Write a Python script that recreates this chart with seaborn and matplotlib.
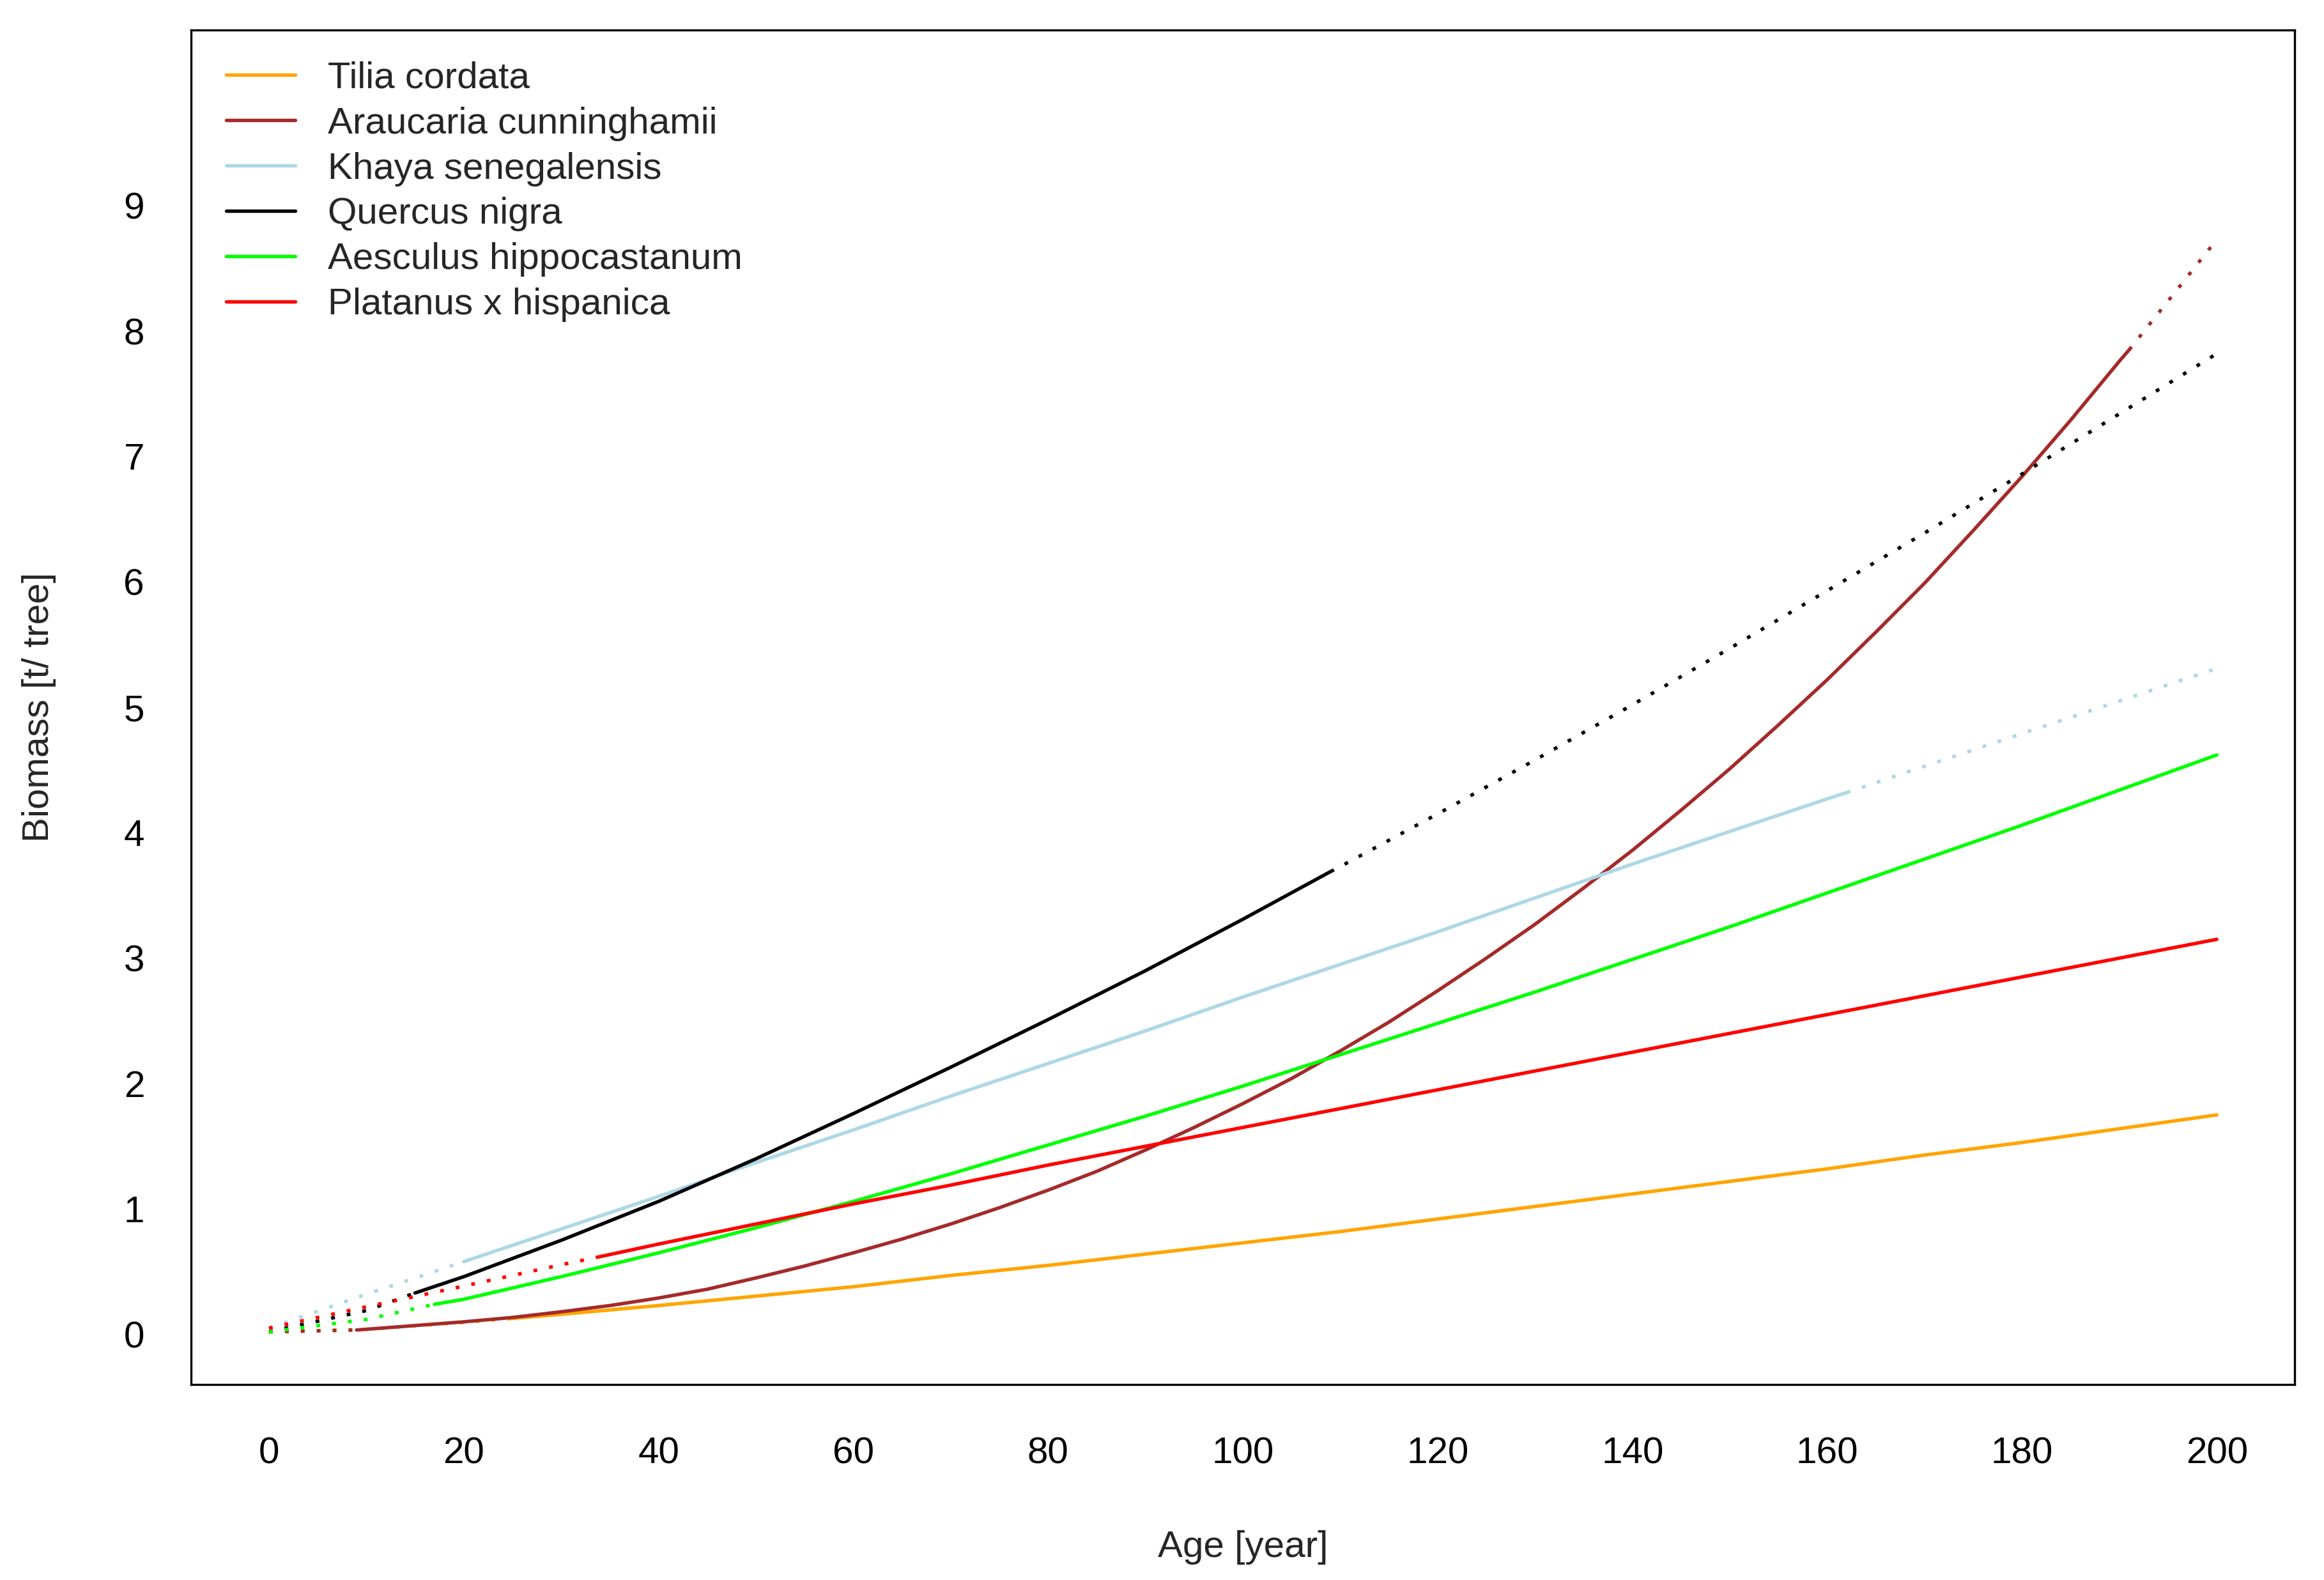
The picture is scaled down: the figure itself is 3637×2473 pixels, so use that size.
import numpy as np
import pandas as pd
import matplotlib
matplotlib.use("Agg")
import matplotlib.pyplot as plt
from matplotlib.lines import Line2D
import seaborn as sns

# biomass curves (age in years, biomass in t/tree)
tilia_age = [0, 10, 20, 25, 30, 40, 50, 60, 70, 80, 90, 100, 110, 120, 130, 140, 150, 160, 170, 180, 190, 200]
tilia_mass = [0.02, 0.04, 0.096, 0.127, 0.16, 0.23, 0.305, 0.38, 0.47, 0.55, 0.64, 0.73, 0.82, 0.92, 1.02, 1.12, 1.22, 1.32, 1.43, 1.53, 1.64, 1.75]
tilia_fit = (25, 200)

arau_age = [0, 9, 20, 25, 30, 35, 40, 45, 50, 55, 60, 65, 70, 75, 80, 85, 90, 95, 100,
            105, 110, 115, 120, 125, 130, 135, 140, 145, 150, 155, 160, 165, 170, 175,
            180, 185, 190, 191, 195, 200]
arau_mass = [0.02, 0.035, 0.10, 0.135, 0.18, 0.23, 0.29, 0.36, 0.45, 0.545, 0.65, 0.76, 0.88, 1.01,
             1.15, 1.30, 1.47, 1.65, 1.84, 2.04, 2.26, 2.49, 2.74, 3.00, 3.27, 3.56, 3.86, 4.18,
             4.51, 4.86, 5.22, 5.60, 5.99, 6.41, 6.84, 7.29, 7.76, 7.85, 8.24, 8.73]
arau_fit = (9, 191)

khaya_age = [0, 10, 20, 30, 40, 50, 60, 70, 80, 90, 100, 110, 120, 130, 140, 150, 160, 162, 170, 180, 190, 200]
khaya_mass = [0.05, 0.32, 0.58, 0.84, 1.10, 1.37, 1.63, 1.90, 2.16, 2.42, 2.69, 2.95, 3.21, 3.48, 3.75, 4.01, 4.27, 4.32, 4.53, 4.79, 5.05, 5.31]
khaya_fit = (20, 162)

quercus_age = [0, 10, 15, 20, 30, 40, 50, 60, 70, 80, 90, 100, 109, 110, 120, 130, 140, 150, 160, 170, 180, 190, 200]
quercus_mass = [0.02, 0.19, 0.33, 0.46, 0.75, 1.06, 1.40, 1.76, 2.13, 2.51, 2.90, 3.31, 3.69, 3.73, 4.15, 4.58, 5.02, 5.47, 5.93, 6.39, 6.86, 7.34, 7.82]
quercus_fit = (15, 109)

aesc_age = [0, 10, 17, 20, 30, 40, 50, 60, 70, 80, 90, 100, 110, 120, 130, 140, 150, 160, 170, 180, 190, 200]
aesc_mass = [0.02, 0.12, 0.24, 0.28, 0.46, 0.65, 0.85, 1.06, 1.28, 1.51, 1.74, 1.98, 2.23, 2.48, 2.73, 2.99, 3.25, 3.52, 3.79, 4.06, 4.34, 4.62]
aesc_fit = (17, 200)

plat_age = [0, 10, 20, 30, 34, 40, 50, 60, 70, 80, 90, 100, 110, 120, 130, 140, 150, 160, 170, 180, 190, 200]
plat_mass = [0.05, 0.22, 0.385, 0.555, 0.62, 0.72, 0.88, 1.04, 1.19, 1.35, 1.50, 1.65, 1.80, 1.95, 2.10, 2.25, 2.40, 2.55, 2.70, 2.85, 3.00, 3.15]
plat_fit = (34, 200)

species = ["Tilia cordata", "Araucaria cunninghamii", "Khaya senegalensis",
           "Quercus nigra", "Aesculus hippocastanum", "Platanus x hispanica"]
colors = ["#FFA500", "#A52A2A", "#ADD8E6", "#000000", "#00FF00", "#FF0000"]
series = [(tilia_age, tilia_mass, tilia_fit), (arau_age, arau_mass, arau_fit),
          (khaya_age, khaya_mass, khaya_fit), (quercus_age, quercus_mass, quercus_fit),
          (aesc_age, aesc_mass, aesc_fit), (plat_age, plat_mass, plat_fit)]

sns.set_style("white")
plt.rcParams['font.family'] = ['Liberation Sans', 'DejaVu Sans']

LW = 1.3
DOTTED = (0, (1.1, 3.5))

fig = plt.figure(figsize=(3637 / 300, 2473 / 300), dpi=300)
ax = fig.add_axes([0.0822, 0.1237, 0.9052, 0.8573])

# solid inside the fitted age range, dotted outside
for (age, mass, (lo, hi)), col in zip(series, colors):
    age = np.asarray(age, dtype=float)
    mass = np.asarray(mass, dtype=float)
    parts = [(age <= lo, DOTTED), ((age >= lo) & (age <= hi), '-'), (age >= hi, DOTTED)]
    for mask, ls in parts:
        if mask.sum() < 2:
            continue
        seg = pd.DataFrame({'age': age[mask], 'mass': mass[mask]})
        sns.lineplot(data=seg, x='age', y='mass', color=col, linestyle=ls,
                     linewidth=LW, estimator=None, sort=False, legend=False, ax=ax)

ax.set_xlim(-8, 208)
ax.set_ylim(-0.4, 10.4)
ax.set_xticks(range(0, 201, 20))
ax.set_yticks(range(0, 10))
ax.tick_params(axis='both', direction='out', length=8.5, width=0.8, color='black',
               labelsize=14, labelcolor='black')
ax.tick_params(axis='x', pad=11)
ax.tick_params(axis='y', pad=9)
for sp in ax.spines.values():
    sp.set_visible(True)
    sp.set_color('black')
    sp.set_linewidth(0.8)

ax.set_xlabel('Age [year]', fontsize=14)
ax.set_ylabel('Biomass [t/ tree]', fontsize=14)
ax.xaxis.set_label_coords(0.5, -0.1075)
ax.yaxis.set_label_coords(-0.064, 0.5)

handles = [Line2D([0], [0], color=c, lw=LW) for c in colors]
ax.legend(handles, species, loc='upper left', bbox_to_anchor=(0.0167, 0.977),
          frameon=False, fontsize=14, borderpad=0, borderaxespad=0,
          labelspacing=0.29, handlelength=1.86, handletextpad=0.87)

fig.savefig('out.png', dpi=300)
